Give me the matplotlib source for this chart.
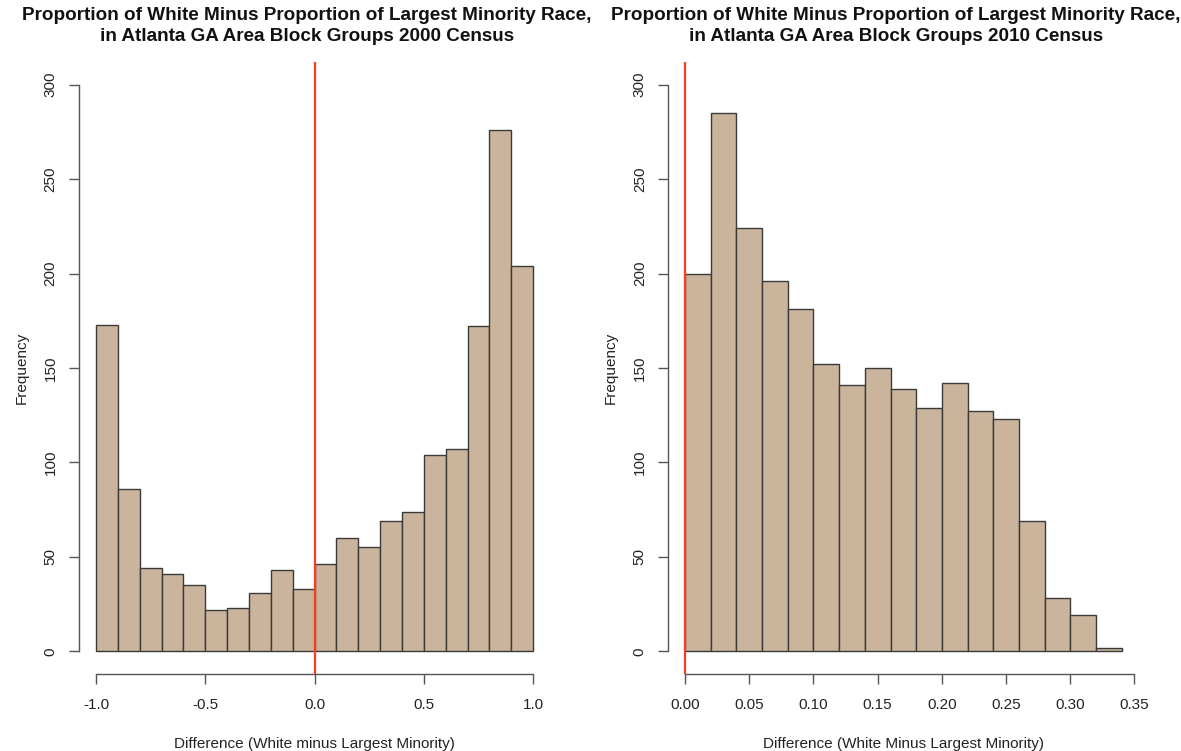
import numpy as np
import matplotlib
matplotlib.use("Agg")
import matplotlib.pyplot as plt

plt.rcParams['font.family'] = ['Liberation Sans', 'DejaVu Sans']

# counts per block group bin, 2000 census (bins of 0.1 from -1 to 1)
breaks_2000 = np.round(np.arange(-1.0, 1.0001, 0.1), 2)
counts_2000 = [173, 86, 44, 41, 35, 22, 23, 31, 43, 33,
               46, 60, 55, 69, 74, 104, 107, 172, 276, 204]

# counts per block group bin, 2010 census (bins of 0.02 from 0 to 0.34)
breaks_2010 = np.round(np.arange(0.0, 0.3401, 0.02), 2)
counts_2010 = [200, 285, 224, 196, 181, 152, 141, 150, 139,
               129, 142, 127, 123, 69, 28, 19, 2]

xticks_2000 = [-1.0, -0.5, 0.0, 0.5, 1.0]
xticks_2010 = [0.00, 0.05, 0.10, 0.15, 0.20, 0.25, 0.30, 0.35]
yticks = [0, 50, 100, 150, 200, 250, 300]

titles = ["Proportion of White Minus Proportion of Largest Minority Race,\n"
          "in Atlanta GA Area Block Groups 2000 Census",
          "Proportion of White Minus Proportion of Largest Minority Race,\n"
          "in Atlanta GA Area Block Groups 2010 Census"]
xlabels = ["Difference (White minus Largest Minority)",
           "Difference (White Minus Largest Minority)"]

bar_fill = '#cbb49c'
bar_edge = '#3a3a3a'
axis_col = '#555555'

fig = plt.figure(figsize=(11.81, 7.51), dpi=100)
ax1 = fig.add_axes([0.0665, 0.1025, 0.3997, 0.815])
ax2 = fig.add_axes([0.5653, 0.1025, 0.3992, 0.815])


def r_hist(ax, breaks, counts, xticks, xfmt, xlabel):
    lefts = breaks[:-1]
    widths = np.diff(breaks)
    ax.bar(lefts, counts, width=widths, align='edge', color=bar_fill,
           edgecolor=bar_edge, linewidth=1.0, zorder=2)
    ax.axvline(0, color='#ff3a1f', linewidth=1.6, zorder=3)

    # R style: range padded by 4% on both axes
    lo, hi = breaks[0], breaks[-1]
    pad = 0.04 * (hi - lo)
    ax.set_xlim(lo - pad, hi + pad)
    ax.set_ylim(-12, 312)

    for s in ['top', 'right']:
        ax.spines[s].set_visible(False)
    ax.spines['left'].set_bounds(0, 300)
    ax.spines['bottom'].set_bounds(xticks[0], xticks[-1])
    for s in ['left', 'bottom']:
        ax.spines[s].set_color(axis_col)
        ax.spines[s].set_linewidth(1.0)

    ax.set_xticks(xticks)
    ax.set_xticklabels([xfmt.format(v) for v in xticks])
    ax.set_yticks(yticks)
    ax.set_yticklabels([str(v) for v in yticks], rotation=90, va='center')
    ax.tick_params(axis='both', direction='out', length=7, width=1.0,
                   color=axis_col, labelsize=11, labelcolor='#222222')
    ax.tick_params(axis='x', pad=10)
    ax.tick_params(axis='y', pad=8)

    ax.set_xlabel(xlabel, fontsize=11, labelpad=18, color='#222222')
    ax.set_ylabel('Frequency', fontsize=11, labelpad=11, color='#222222')


r_hist(ax1, breaks_2000, counts_2000, xticks_2000, '{:.1f}', xlabels[0])
r_hist(ax2, breaks_2010, counts_2010, xticks_2010, '{:.2f}', xlabels[1])

# two-line bold titles above each panel
for xc, t in zip([307 / 1181, 896 / 1181], titles):
    fig.text(xc, 1 - 7 / 751, t, ha='center', va='top', fontsize=13.6,
             fontweight='bold', color='#111111', linespacing=1.3)

fig.savefig('out.png', dpi=100)
